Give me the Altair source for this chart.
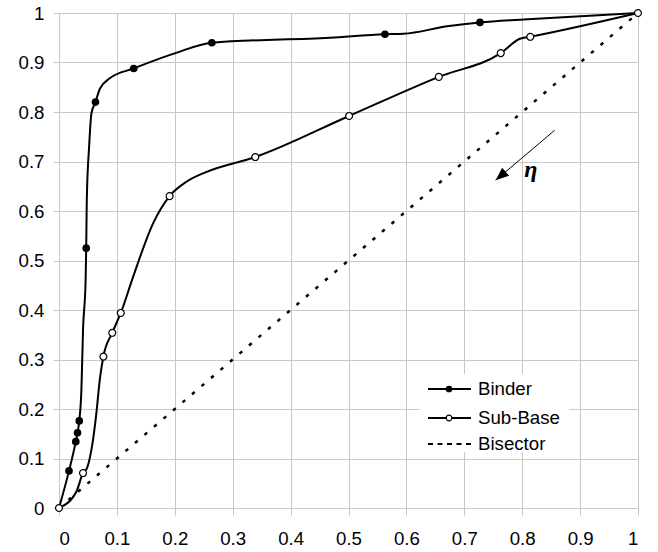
import altair as alt
import pandas as pd

# ---- data ----
binder_x = [0, 0.0173, 0.029, 0.032, 0.035, 0.0387, 0.0415, 0.046, 0.047, 0.048, 0.052, 0.056,
            0.063, 0.0706, 0.0876, 0.129, 0.201, 0.264, 0.468, 0.563, 0.595, 0.67, 0.727, 0.802, 1]
binder_y = [0, 0.075, 0.134, 0.152, 0.176, 0.239, 0.36, 0.461, 0.525, 0.622, 0.73, 0.797,
            0.820, 0.847, 0.868, 0.888, 0.919, 0.940, 0.950, 0.957, 0.958, 0.973, 0.981, 0.987, 1]
binder_mark_x = [0.0173, 0.029, 0.032, 0.035, 0.047, 0.063, 0.129, 0.264, 0.563, 0.727]
binder_mark_y = [0.075, 0.134, 0.152, 0.176, 0.525, 0.820, 0.888, 0.940, 0.957, 0.981]

sub_x = [0, 0.03, 0.0415, 0.0485, 0.0588, 0.0646, 0.0704, 0.0767, 0.092, 0.1067, 0.128, 0.1625,
         0.191, 0.22, 0.255, 0.339, 0.501, 0.656, 0.763, 0.796, 0.814, 1]
sub_y = [0, 0.033, 0.0706, 0.081, 0.138, 0.192, 0.259, 0.306, 0.354, 0.394, 0.467, 0.575,
         0.630, 0.659, 0.679, 0.709, 0.792, 0.871, 0.919, 0.948, 0.952, 1]
sub_mark_x = [0, 0.0415, 0.0767, 0.092, 0.1067, 0.191, 0.339, 0.501, 0.656, 0.763, 0.814, 1]
sub_mark_y = [0, 0.0706, 0.306, 0.354, 0.394, 0.630, 0.709, 0.792, 0.871, 0.919, 0.952, 1]

bisector_x = [0, 1]
bisector_y = [0, 1]

tick_values = [0, 0.1, 0.2, 0.3, 0.4, 0.5, 0.6, 0.7, 0.8, 0.9, 1]

arrow_start = [0.856, 0.763]
arrow_end = [0.754, 0.662]
eta_pos = [0.815, 0.683]
eta_label = "η"

legend_labels = ["Binder", "Sub-Base", "Bisector"]

# ---- chart ----
FONT = "Liberation Sans"
GRID = "#c8c8c8"

xscale = alt.Scale(domain=[0, 1], nice=False, zero=False)
yscale = alt.Scale(domain=[0, 1], nice=False, zero=False)

xaxis = alt.Axis(values=tick_values, format="~g", title=None, grid=True)
yaxis = alt.Axis(values=tick_values, format="~g", title=None, grid=True)

df_binder = pd.DataFrame({"x": binder_x, "y": binder_y})
df_binder_m = pd.DataFrame({"x": binder_mark_x, "y": binder_mark_y})
df_sub = pd.DataFrame({"x": sub_x, "y": sub_y})
df_sub_m = pd.DataFrame({"x": sub_mark_x, "y": sub_mark_y})
df_bis = pd.DataFrame({"x": bisector_x, "y": bisector_y})
df_arrow = pd.DataFrame({"x": [arrow_start[0]], "y": [arrow_start[1]],
                         "x2": [arrow_end[0]], "y2": [arrow_end[1]]})
df_head = pd.DataFrame({"x": [arrow_end[0]], "y": [arrow_end[1]]})
df_eta = pd.DataFrame({"x": [eta_pos[0]], "y": [eta_pos[1]], "t": [eta_label]})
one = pd.DataFrame({"a": [0]})

enc = dict(x=alt.X("x:Q", scale=xscale, axis=xaxis), y=alt.Y("y:Q", scale=yscale, axis=yaxis))

bis_line = alt.Chart(df_bis).mark_line(color="black", strokeWidth=2.5, strokeDash=[3.5, 9]).encode(**enc)
binder_line = alt.Chart(df_binder).mark_line(color="black", strokeWidth=2, interpolate="monotone").encode(**enc)
sub_line = alt.Chart(df_sub).mark_line(color="black", strokeWidth=2, interpolate="monotone").encode(**enc)
binder_pts = alt.Chart(df_binder_m).mark_circle(color="black", size=58, opacity=1).encode(**enc)
sub_pts = alt.Chart(df_sub_m).mark_circle(fill="white", stroke="black", strokeWidth=1.2,
                                          size=48, opacity=1).encode(**enc)

arrow = alt.Chart(df_arrow).mark_rule(color="black", strokeWidth=1).encode(
    x=alt.X("x:Q", scale=xscale), y=alt.Y("y:Q", scale=yscale), x2="x2:Q", y2="y2:Q")
head = alt.Chart(df_head).mark_point(shape="M0,0L-0.4,1L0.4,1Z", filled=True, color="black",
                                     size=700, angle=229.5, opacity=1).encode(
    x=alt.X("x:Q", scale=xscale), y=alt.Y("y:Q", scale=yscale))
eta = alt.Chart(df_eta).mark_text(font="Liberation Serif", fontStyle="italic", fontWeight="bold",
                                  fontSize=24, color="black").encode(
    x=alt.X("x:Q", scale=xscale), y=alt.Y("y:Q", scale=yscale), text="t:N")

# ---- manual legend (pixel layout inside plot area) ----
leg_bg = alt.Chart(one).mark_rect(fill="white").encode(
    x=alt.value(361), x2=alt.value(510), y=alt.value(361), y2=alt.value(439))
rows_y = [376, 405, 431]
leg_layers = [leg_bg]
for i, lab in enumerate(legend_labels):
    yy = rows_y[i]
    if i < 2:
        leg_layers.append(alt.Chart(one).mark_rule(color="black", strokeWidth=2).encode(
            x=alt.value(369), x2=alt.value(412), y=alt.value(yy)))
    else:
        leg_layers.append(alt.Chart(one).mark_rule(color="black", strokeWidth=2, strokeDash=[5, 4.5]).encode(
            x=alt.value(369), x2=alt.value(412), y=alt.value(yy)))
    if i == 0:
        leg_layers.append(alt.Chart(one).mark_circle(color="black", size=45, opacity=1).encode(
            x=alt.value(390), y=alt.value(yy)))
    elif i == 1:
        leg_layers.append(alt.Chart(one).mark_circle(fill="white", stroke="black", strokeWidth=1.2,
                                                      size=32, opacity=1).encode(
            x=alt.value(390), y=alt.value(yy)))
    leg_layers.append(alt.Chart(one).mark_text(align="left", baseline="middle", font=FONT,
                                               fontSize=18.67, color="black").encode(
        x=alt.value(419), y=alt.value(yy), text=alt.value(lab)))

chart = alt.layer(
    bis_line, binder_line, sub_line, binder_pts, sub_pts, arrow, head, eta, *leg_layers
).properties(
    width=579, height=495,
    autosize=alt.AutoSizeParams(type="none"),
    padding={"left": 59, "top": 13, "right": 20, "bottom": 44},
    background="white",
).configure_axis(
    gridColor=GRID, gridWidth=1, domainColor=GRID, domainWidth=1, tickColor=GRID,
    labelFont=FONT, labelFontSize=18.67, labelColor="black",
).configure_axisX(
    tickSize=7, labelPadding=14,
).configure_axisY(
    tickSize=6, labelPadding=9,
).configure_view(stroke=GRID, strokeWidth=1)

chart.save("out.html", embed_options={"renderer": "svg", "actions": False})
